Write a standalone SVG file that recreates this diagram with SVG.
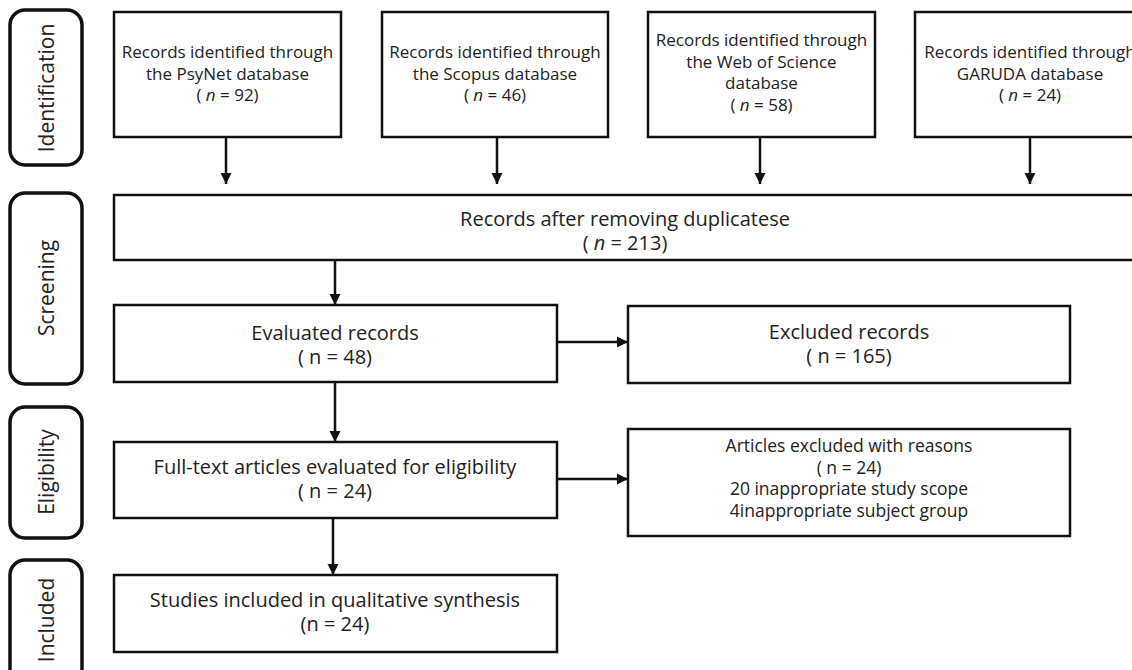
<svg xmlns="http://www.w3.org/2000/svg" width="1132" height="670" viewBox="0 0 1132 670">
<style>
.box{fill:#fff;stroke:#111;stroke-width:2.5}
.side{fill:#fff;stroke:#111;stroke-width:3.5}
.t{font-family:"Open Sans","Liberation Sans",sans-serif;fill:#222;text-anchor:middle}
.s16{font-size:17px}
.s17{font-size:17.5px}
.s18{font-size:20px}
.lab{font-family:"Open Sans","Liberation Sans",sans-serif;fill:#222;text-anchor:middle;font-size:21px}
.c{stroke:#111;stroke-width:2.5;fill:none}
</style>
<defs>
<marker id="ah" markerUnits="userSpaceOnUse" markerWidth="12" markerHeight="12" viewBox="0 0 12 12" refX="11" refY="6" orient="auto">
<path d="M0,0.5 L11,6 L0,11.5 Z" fill="#111"/>
</marker>
</defs>
<rect width="1132" height="670" fill="#fff"/>

<g id="phase-identification">
<rect class="side" x="10" y="10" width="72" height="155" rx="15"/>
<text class="lab" transform="translate(54,88) rotate(-90)">Identification</text>
</g>
<g id="phase-screening">
<rect class="side" x="10" y="193" width="72" height="191" rx="15"/>
<text class="lab" transform="translate(54,288) rotate(-90)">Screening</text>
</g>
<g id="phase-eligibility">
<rect class="side" x="10" y="407" width="72" height="131" rx="15"/>
<text class="lab" transform="translate(54,472) rotate(-90)">Eligibility</text>
</g>
<g id="phase-included">
<rect class="side" x="10" y="560" width="72" height="130" rx="15"/>
<text class="lab" transform="translate(54,620) rotate(-90)">Included</text>
</g>

<g id="psynet">
<rect class="box" x="114" y="12" width="227" height="125"/>
<text class="t s16" x="227.5" y="58">Records identified through</text>
<text class="t s16" x="227.5" y="80">the PsyNet database</text>
<text class="t s16" x="227.5" y="101">( <tspan font-style="italic">n</tspan> = 92)</text>
</g>
<g id="scopus">
<rect class="box" x="382" y="12" width="226" height="125"/>
<text class="t s16" x="495" y="58">Records identified through</text>
<text class="t s16" x="495" y="80">the Scopus database</text>
<text class="t s16" x="495" y="101">( <tspan font-style="italic">n</tspan> = 46)</text>
</g>
<g id="wos">
<rect class="box" x="648" y="12" width="227" height="125"/>
<text class="t s16" x="761.5" y="46">Records identified through</text>
<text class="t s16" x="761.5" y="68">the Web of Science</text>
<text class="t s16" x="761.5" y="89">database</text>
<text class="t s16" x="761.5" y="111">( <tspan font-style="italic">n</tspan> = 58)</text>
</g>
<g id="garuda">
<rect class="box" x="915" y="12" width="230" height="125"/>
<text class="t s16" x="1030" y="58">Records identified through</text>
<text class="t s16" x="1030" y="80">GARUDA database</text>
<text class="t s16" x="1030" y="101">( <tspan font-style="italic">n</tspan> = 24)</text>
</g>

<g id="duplicates">
<rect class="box" x="114" y="195" width="1030" height="65"/>
<text class="t s18" x="625" y="226">Records after removing duplicatese</text>
<text class="t s18" x="625" y="250">( <tspan font-style="italic">n</tspan> = 213)</text>
</g>
<g id="evaluated">
<rect class="box" x="114" y="305" width="443" height="77"/>
<text class="t s18" x="335" y="340">Evaluated records</text>
<text class="t s18" x="335" y="364">( n = 48)</text>
</g>
<g id="excluded">
<rect class="box" x="628" y="306" width="442" height="77"/>
<text class="t s18" x="849" y="339">Excluded records</text>
<text class="t s18" x="849" y="363">( n = 165)</text>
</g>
<g id="fulltext">
<rect class="box" x="114" y="442" width="443" height="76"/>
<text class="t s18" x="335" y="474">Full-text articles evaluated for eligibility</text>
<text class="t s18" x="335" y="498">( n = 24)</text>
</g>
<g id="articles-excluded">
<rect class="box" x="628" y="429" width="442" height="107"/>
<text class="t s17" x="849" y="452">Articles excluded with reasons</text>
<text class="t s17" x="849" y="474">( n = 24)</text>
<text class="t s17" x="849" y="495">20 inappropriate study scope</text>
<text class="t s17" x="849" y="517">4inappropriate subject group</text>
</g>
<g id="included">
<rect class="box" x="114" y="575" width="443" height="77"/>
<text class="t s18" x="335" y="607">Studies included in qualitative synthesis</text>
<text class="t s18" x="335" y="631">(n = 24)</text>
</g>

<g id="connectors">
<line class="c" x1="226" y1="137" x2="226" y2="184" marker-end="url(#ah)"/>
<line class="c" x1="497" y1="137" x2="497" y2="184" marker-end="url(#ah)"/>
<line class="c" x1="760" y1="137" x2="760" y2="184" marker-end="url(#ah)"/>
<line class="c" x1="1030" y1="137" x2="1030" y2="184" marker-end="url(#ah)"/>
<line class="c" x1="335" y1="260" x2="335" y2="305" marker-end="url(#ah)"/>
<line class="c" x1="335" y1="382" x2="335" y2="442" marker-end="url(#ah)"/>
<line class="c" x1="333" y1="518" x2="333" y2="575" marker-end="url(#ah)"/>
<line class="c" x1="557" y1="342" x2="628" y2="342" marker-end="url(#ah)"/>
<line class="c" x1="557" y1="479" x2="628" y2="479" marker-end="url(#ah)"/>
</g>
</svg>
